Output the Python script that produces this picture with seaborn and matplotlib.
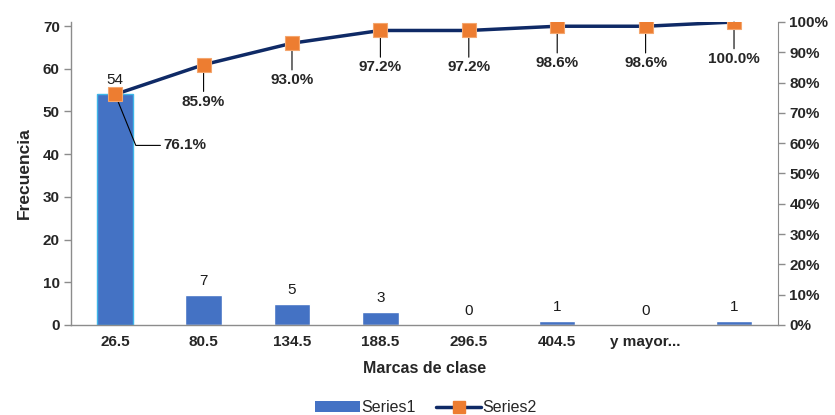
"""Pareto chart: frecuencia por marca de clase + % acumulado."""
import matplotlib
matplotlib.use("Agg")
import matplotlib.pyplot as plt
from matplotlib.lines import Line2D
from matplotlib.patches import Patch
from matplotlib.ticker import FixedLocator, PercentFormatter
import numpy as np
import pandas as pd
import seaborn as sns

categories = ["26.5", "80.5", "134.5", "188.5", "296.5", "404.5", "y mayor...", ""]
frecuencia = [54, 7, 5, 3, 0, 1, 0, 1]
pct_acum = [76.1, 85.9, 93.0, 97.2, 97.2, 98.6, 98.6, 100.0]

BLUE = "#4472C4"
NAVY = "#0F2A66"
ORANGE = "#ED7D31"
GRAY = "#8C8C8C"

sns.set_style("white")
plt.rcParams["font.family"] = ["Liberation Sans", "DejaVu Sans"]

df = pd.DataFrame({"marca": categories, "frec": frecuencia, "pct": pct_acum})
df["pos"] = np.arange(len(df))

fig = plt.figure(figsize=(8.35, 4.15), dpi=100)
ax = fig.add_axes([0.085, 0.217, 0.847, 0.730])

sns.barplot(data=df, x="marca", y="frec", order=categories, color=BLUE,
            saturation=1, width=0.41, ax=ax)
ax.patches[0].set_edgecolor("#3FB6E8")
ax.patches[0].set_linewidth(1.0)
for c in ax.containers:
    ax.bar_label(c, labels=[str(v) for v in frecuencia], padding=5,
                 fontsize=11, color="#1a1a1a")

ax.set_xlim(-0.5, len(categories) - 0.5)
ax.set_ylim(0, 70.94)
ax.set_yticks(range(0, 71, 10))
ax.set_xlabel("Marcas de clase", fontsize=11.5, fontweight="bold", labelpad=9)
ax.set_ylabel("Frecuencia", fontsize=12.5, fontweight="bold", labelpad=8)
ax.tick_params(axis="x", length=0, pad=7, labelsize=11)
ax.xaxis.set_minor_locator(FixedLocator(np.arange(-0.5, len(categories), 1)))
ax.tick_params(axis="x", which="minor", length=5, color=GRAY, width=1)
ax.tick_params(axis="y", length=5, color=GRAY, width=1, pad=3, labelsize=11)
for lab in ax.get_xticklabels() + ax.get_yticklabels():
    lab.set_fontweight("bold")
for s in ["top", "right"]:
    ax.spines[s].set_visible(False)
for s in ["left", "bottom"]:
    ax.spines[s].set_color(GRAY)
    ax.spines[s].set_linewidth(1)

ax2 = ax.twinx()
sns.lineplot(data=df, x="pos", y="pct", color=NAVY, linewidth=2.5,
             marker="s", markersize=10, markerfacecolor=ORANGE,
             markeredgecolor="#F4A66E", markeredgewidth=0.8, ax=ax2,
             zorder=5)
ax2.set_xlim(-0.5, len(categories) - 0.5)
ax2.set_ylim(0, 100)
ax2.set_yticks(range(0, 101, 10))
ax2.yaxis.set_major_formatter(PercentFormatter(decimals=0))
ax2.set_ylabel("")
ax2.tick_params(axis="y", length=5, color=GRAY, width=1, pad=3, labelsize=11)
for lab in ax2.get_yticklabels():
    lab.set_fontweight("bold")
for s in ["top", "left", "bottom"]:
    ax2.spines[s].set_visible(False)
ax2.spines["right"].set_color(GRAY)

for i, (p, v) in enumerate(zip(df["pos"], df["pct"])):
    if i == 0:
        ax2.annotate(f"{v:.1f}%", xy=(p, v), xytext=(70, -51),
                     textcoords="offset pixels", ha="center", va="center",
                     fontsize=11, fontweight="bold",
                     arrowprops=dict(arrowstyle="-", color="black", lw=0.8,
                                     relpos=(0, 0.5), shrinkA=0, shrinkB=0,
                                     connectionstyle="angle,angleA=0,angleB=-68,rad=0"))
    else:
        ax2.annotate(f"{v:.1f}%", xy=(p, v), xytext=(0, -37),
                     textcoords="offset pixels", ha="center", va="center",
                     fontsize=11, fontweight="bold",
                     arrowprops=dict(arrowstyle="-", color="black", lw=0.8,
                                     relpos=(0.5, 1), shrinkA=0, shrinkB=0))

handles = [Patch(facecolor=BLUE, edgecolor="none"),
           Line2D([], [], color=NAVY, lw=2.5, marker="s", markersize=9,
                  markerfacecolor=ORANGE, markeredgecolor=ORANGE)]
fig.legend(handles, ["Series1", "Series2"], loc="lower center",
           bbox_to_anchor=(0.51, -0.035), ncol=2, frameon=False,
           fontsize=11.5, handlelength=2.8, handleheight=0.7,
           columnspacing=1.3, handletextpad=0.1)

fig.savefig("out.png", dpi=100)
